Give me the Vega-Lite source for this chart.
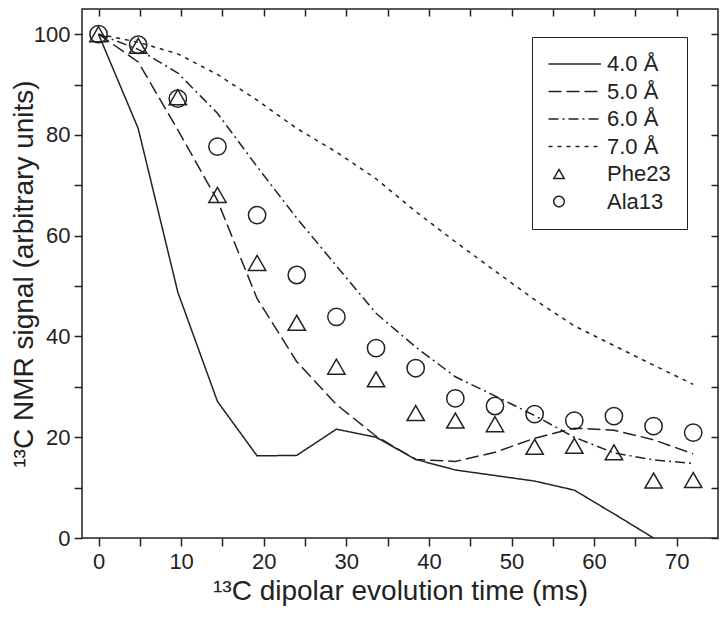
{
  "$schema": "https://vega.github.io/schema/vega-lite/v6.json",
  "width": 636,
  "height": 529,
  "autosize": {"type": "none"},
  "padding": {"left": 82, "top": 9, "right": 5, "bottom": 79},
  "background": "white",
  "config": {
    "view": {"stroke": "#222", "strokeWidth": 1.5},
    "font": "Liberation Sans",
    "axis": {
      "grid": false,
      "domain": false,
      "tickColor": "#222",
      "tickWidth": 1.5,
      "labelFont": "Liberation Sans",
      "labelColor": "#222",
      "labelFontSize": 22,
      "titleFont": "Liberation Sans",
      "titleColor": "#222",
      "titleFontSize": 28,
      "titleFontWeight": "normal"
    },
    "legend": {
      "title": null,
      "orient": "none",
      "legendX": 450,
      "legendY": 28,
      "strokeColor": "#222",
      "fillColor": "white",
      "padding": 16,
      "labelFont": "Liberation Sans",
      "labelFontSize": 22,
      "labelColor": "#222",
      "rowPadding": 5.5,
      "labelOffset": 37,
      "symbolSize": 110,
      "symbolStrokeWidth": 1.5,
      "symbolStrokeColor": "#222",
      "symbolFillColor": "transparent"
    }
  },
  "data": {
    "values": [
      {"t": 0, "signal": 100, "series": "4.0 Å"},
      {"t": 4.8, "signal": 81.3, "series": "4.0 Å"},
      {"t": 9.6, "signal": 48.8, "series": "4.0 Å"},
      {"t": 14.4, "signal": 27.1, "series": "4.0 Å"},
      {"t": 19.2, "signal": 16.3, "series": "4.0 Å"},
      {"t": 24, "signal": 16.4, "series": "4.0 Å"},
      {"t": 28.8, "signal": 21.6, "series": "4.0 Å"},
      {"t": 33.6, "signal": 20.0, "series": "4.0 Å"},
      {"t": 38.4, "signal": 15.6, "series": "4.0 Å"},
      {"t": 43.2, "signal": 13.5, "series": "4.0 Å"},
      {"t": 48, "signal": 12.4, "series": "4.0 Å"},
      {"t": 52.8, "signal": 11.3, "series": "4.0 Å"},
      {"t": 57.6, "signal": 9.5, "series": "4.0 Å"},
      {"t": 62.4, "signal": 4.8, "series": "4.0 Å"},
      {"t": 67.2, "signal": 0, "series": "4.0 Å"},

      {"t": 0, "signal": 100, "series": "5.0 Å"},
      {"t": 4.8, "signal": 94.5, "series": "5.0 Å"},
      {"t": 9.6, "signal": 81, "series": "5.0 Å"},
      {"t": 14.4, "signal": 67, "series": "5.0 Å"},
      {"t": 19.2, "signal": 47.5, "series": "5.0 Å"},
      {"t": 24, "signal": 35, "series": "5.0 Å"},
      {"t": 28.8, "signal": 26.5, "series": "5.0 Å"},
      {"t": 33.6, "signal": 20.2, "series": "5.0 Å"},
      {"t": 38.4, "signal": 15.6, "series": "5.0 Å"},
      {"t": 43.2, "signal": 15.2, "series": "5.0 Å"},
      {"t": 48, "signal": 17, "series": "5.0 Å"},
      {"t": 52.8, "signal": 19.8, "series": "5.0 Å"},
      {"t": 57.6, "signal": 21.8, "series": "5.0 Å"},
      {"t": 62.4, "signal": 21.4, "series": "5.0 Å"},
      {"t": 67.2, "signal": 19.5, "series": "5.0 Å"},
      {"t": 72, "signal": 16.7, "series": "5.0 Å"},

      {"t": 0, "signal": 100, "series": "6.0 Å"},
      {"t": 4.8, "signal": 97, "series": "6.0 Å"},
      {"t": 9.6, "signal": 92.3, "series": "6.0 Å"},
      {"t": 14.4, "signal": 84.3, "series": "6.0 Å"},
      {"t": 19.2, "signal": 73.7, "series": "6.0 Å"},
      {"t": 24, "signal": 63.5, "series": "6.0 Å"},
      {"t": 28.8, "signal": 54, "series": "6.0 Å"},
      {"t": 33.6, "signal": 44.6, "series": "6.0 Å"},
      {"t": 38.4, "signal": 37.9, "series": "6.0 Å"},
      {"t": 43.2, "signal": 32, "series": "6.0 Å"},
      {"t": 48, "signal": 28.2, "series": "6.0 Å"},
      {"t": 52.8, "signal": 24.3, "series": "6.0 Å"},
      {"t": 57.6, "signal": 20, "series": "6.0 Å"},
      {"t": 62.4, "signal": 16.9, "series": "6.0 Å"},
      {"t": 67.2, "signal": 15.5, "series": "6.0 Å"},
      {"t": 72, "signal": 14.8, "series": "6.0 Å"},

      {"t": 0, "signal": 100, "series": "7.0 Å"},
      {"t": 4.8, "signal": 98.4, "series": "7.0 Å"},
      {"t": 9.6, "signal": 96.1, "series": "7.0 Å"},
      {"t": 14.4, "signal": 92, "series": "7.0 Å"},
      {"t": 19.2, "signal": 86.9, "series": "7.0 Å"},
      {"t": 24, "signal": 81.3, "series": "7.0 Å"},
      {"t": 28.8, "signal": 76.6, "series": "7.0 Å"},
      {"t": 33.6, "signal": 71.3, "series": "7.0 Å"},
      {"t": 38.4, "signal": 64.8, "series": "7.0 Å"},
      {"t": 43.2, "signal": 58.8, "series": "7.0 Å"},
      {"t": 48, "signal": 53, "series": "7.0 Å"},
      {"t": 52.8, "signal": 47.3, "series": "7.0 Å"},
      {"t": 57.6, "signal": 42.1, "series": "7.0 Å"},
      {"t": 62.4, "signal": 38.2, "series": "7.0 Å"},
      {"t": 67.2, "signal": 34.3, "series": "7.0 Å"},
      {"t": 72, "signal": 30.5, "series": "7.0 Å"},

      {"t": 0, "signal": 100, "series": "Phe23"},
      {"t": 4.8, "signal": 97.7, "series": "Phe23"},
      {"t": 9.6, "signal": 87.5, "series": "Phe23"},
      {"t": 14.4, "signal": 68.1, "series": "Phe23"},
      {"t": 19.2, "signal": 54.6, "series": "Phe23"},
      {"t": 24, "signal": 42.7, "series": "Phe23"},
      {"t": 28.8, "signal": 34.0, "series": "Phe23"},
      {"t": 33.6, "signal": 31.5, "series": "Phe23"},
      {"t": 38.4, "signal": 24.8, "series": "Phe23"},
      {"t": 43.2, "signal": 23.3, "series": "Phe23"},
      {"t": 48, "signal": 22.6, "series": "Phe23"},
      {"t": 52.8, "signal": 18.1, "series": "Phe23"},
      {"t": 57.6, "signal": 18.3, "series": "Phe23"},
      {"t": 62.4, "signal": 17.0, "series": "Phe23"},
      {"t": 67.2, "signal": 11.4, "series": "Phe23"},
      {"t": 72, "signal": 11.5, "series": "Phe23"},

      {"t": 0, "signal": 100, "series": "Ala13"},
      {"t": 4.8, "signal": 97.9, "series": "Ala13"},
      {"t": 9.6, "signal": 87.2, "series": "Ala13"},
      {"t": 14.4, "signal": 77.7, "series": "Ala13"},
      {"t": 19.2, "signal": 64.1, "series": "Ala13"},
      {"t": 24, "signal": 52.2, "series": "Ala13"},
      {"t": 28.8, "signal": 43.9, "series": "Ala13"},
      {"t": 33.6, "signal": 37.7, "series": "Ala13"},
      {"t": 38.4, "signal": 33.7, "series": "Ala13"},
      {"t": 43.2, "signal": 27.7, "series": "Ala13"},
      {"t": 48, "signal": 26.2, "series": "Ala13"},
      {"t": 52.8, "signal": 24.6, "series": "Ala13"},
      {"t": 57.6, "signal": 23.3, "series": "Ala13"},
      {"t": 62.4, "signal": 24.2, "series": "Ala13"},
      {"t": 67.2, "signal": 22.2, "series": "Ala13"},
      {"t": 72, "signal": 20.9, "series": "Ala13"}
    ]
  },
  "resolve": {"axis": {"x": "independent", "y": "independent"}},
  "layer": [
    {
      "transform": [{"filter": {"field": "series", "oneOf": ["4.0 Å", "5.0 Å", "6.0 Å", "7.0 Å"]}}],
      "mark": {"type": "line", "strokeWidth": 1.5, "color": "#222", "clip": true},
      "encoding": {
        "x": {
          "field": "t", "type": "quantitative",
          "scale": {"domain": [-2, 75], "nice": false, "zero": false},
          "axis": {
            "orient": "bottom",
            "values": [0, 5, 10, 15, 20, 25, 30, 35, 40, 45, 50, 55, 60, 65, 70],
            "labelExpr": "datum.value % 10 === 0 ? datum.label : ''",
            "tickSize": 8, "labelPadding": 5,
            "title": "¹³C dipolar evolution time (ms)", "titlePadding": 5
          }
        },
        "y": {
          "field": "signal", "type": "quantitative",
          "scale": {"domain": [0, 105], "nice": false},
          "axis": {
            "orient": "left",
            "values": [0, 10, 20, 30, 40, 50, 60, 70, 80, 90, 100],
            "labelExpr": "datum.value % 20 === 0 ? datum.label : ''",
            "tickSize": 8, "labelPadding": 4,
            "title": "¹³C NMR signal (arbitrary units)", "titlePadding": -5
          }
        },
        "strokeDash": {
          "field": "series", "type": "nominal",
          "scale": {
            "domain": ["4.0 Å", "5.0 Å", "6.0 Å", "7.0 Å", "Phe23", "Ala13"],
            "range": [[1, 0], [13, 5], [10, 4, 2, 4], [4, 5], [1, 0], [1, 0]]
          },
          "legend": {"title": null}
        }
      }
    },
    {
      "transform": [{"filter": {"field": "series", "oneOf": ["Phe23", "Ala13"]}}],
      "mark": {"type": "point", "filled": false, "strokeWidth": 1.5, "color": "#222", "opacity": 1, "size": 300},
      "encoding": {
        "x": {
          "field": "t", "type": "quantitative",
          "axis": {
            "orient": "top", "labels": false, "title": null,
            "values": [0, 5, 10, 15, 20, 25, 30, 35, 40, 45, 50, 55, 60, 65, 70],
            "tickSize": -7
          }
        },
        "y": {
          "field": "signal", "type": "quantitative",
          "axis": {
            "orient": "right", "labels": false, "title": null,
            "values": [0, 10, 20, 30, 40, 50, 60, 70, 80, 90, 100],
            "tickSize": -7
          }
        },
        "shape": {
          "field": "series", "type": "nominal",
          "scale": {
            "domain": ["4.0 Å", "5.0 Å", "6.0 Å", "7.0 Å", "Phe23", "Ala13"],
            "range": ["M-2,0H8", "M-2,0H8", "M-2,0H8", "M-2,0H8", "triangle-up", "circle"]
          },
          "legend": {"title": null}
        }
      }
    }
  ]
}
